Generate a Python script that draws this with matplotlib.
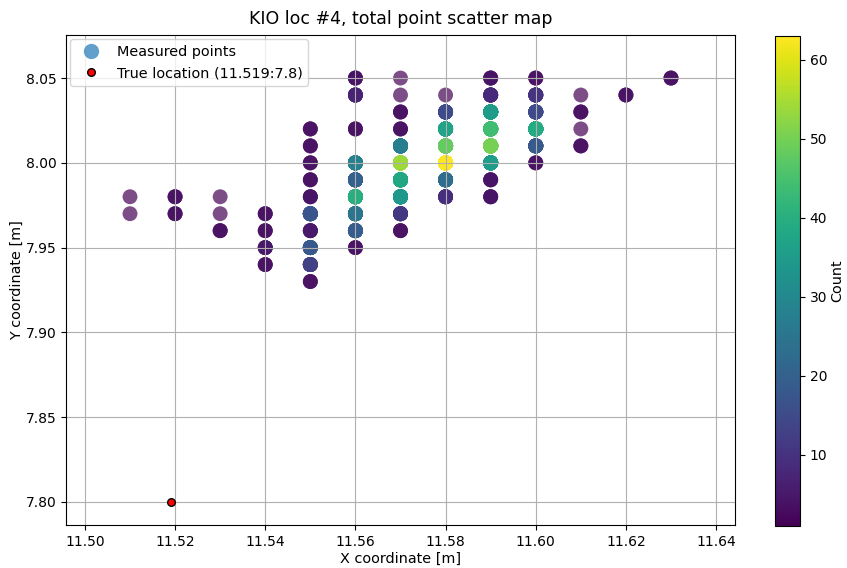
import numpy as np
import matplotlib
matplotlib.use("Agg")
import matplotlib.pyplot as plt
from matplotlib.lines import Line2D

# Measured points: x, y, count
x_vals = [11.51, 11.51,
          11.52, 11.52,
          11.53, 11.53, 11.53,
          11.54, 11.54, 11.54, 11.54,
          11.55, 11.55, 11.55, 11.55, 11.55, 11.55, 11.55, 11.55, 11.55, 11.55,
          11.56, 11.56, 11.56, 11.56, 11.56, 11.56, 11.56, 11.56, 11.56,
          11.57, 11.57, 11.57, 11.57, 11.57, 11.57, 11.57, 11.57, 11.57, 11.57,
          11.58, 11.58, 11.58, 11.58, 11.58, 11.58, 11.58,
          11.59, 11.59, 11.59, 11.59, 11.59, 11.59, 11.59, 11.59,
          11.60, 11.60, 11.60, 11.60, 11.60, 11.60,
          11.61, 11.61, 11.61, 11.61,
          11.62,
          11.63]
y_vals = [7.98, 7.97,
          7.98, 7.97,
          7.98, 7.97, 7.96,
          7.97, 7.96, 7.95, 7.94,
          8.02, 8.01, 8.00, 7.99, 7.98, 7.97, 7.96, 7.95, 7.94, 7.93,
          8.05, 8.04, 8.02, 8.00, 7.99, 7.98, 7.97, 7.96, 7.95,
          8.05, 8.04, 8.03, 8.02, 8.01, 8.00, 7.99, 7.98, 7.97, 7.96,
          8.04, 8.03, 8.02, 8.01, 8.00, 7.99, 7.98,
          8.05, 8.04, 8.03, 8.02, 8.01, 8.00, 7.99, 7.98,
          8.05, 8.04, 8.03, 8.02, 8.01, 8.00,
          8.04, 8.03, 8.02, 8.01,
          8.04,
          8.05]
counts = [1, 1,
          3, 3,
          1, 1, 3,
          3, 3, 5, 3,
          3, 3, 3, 3, 4, 17, 5, 18, 13, 3,
          4, 7, 3, 28, 20, 40, 25, 19, 3,
          1, 1, 3, 3, 27, 54, 38, 34, 11, 3,
          1, 15, 37, 48, 63, 23, 9,
          4, 8, 35, 44, 50, 35, 4, 4,
          3, 10, 15, 39, 18, 3,
          1, 3, 1, 3,
          3,
          3]

true_x = [11.519]
true_y = [7.8]

x_ticks = [11.50, 11.52, 11.54, 11.56, 11.58, 11.60, 11.62, 11.64]
y_ticks = [7.80, 7.85, 7.90, 7.95, 8.00, 8.05]
cbar_ticks = [10, 20, 30, 40, 50, 60]

plt.rcParams["font.size"] = 10.4
plt.rcParams["xtick.labelsize"] = 10
plt.rcParams["ytick.labelsize"] = 10

# Each measured point is drawn once per occurrence (count times)
rep_x = np.repeat(x_vals, counts)
rep_y = np.repeat(y_vals, counts)
rep_c = np.repeat(counts, counts)

fig = plt.figure(figsize=(8.47, 5.68), dpi=100)
ax = fig.add_axes([0.0779, 0.0757, 0.7899, 0.8627])
cax = fig.add_axes([0.915, 0.0739, 0.0295, 0.8627])

sc = ax.scatter(rep_x, rep_y, c=rep_c, cmap="viridis", vmin=1, vmax=63,
                s=115, alpha=0.7, linewidths=0)
ax.scatter(true_x, true_y, c="red", edgecolors="black", s=30, zorder=3,
           linewidths=1)

ax.set_xlim(11.4958, 11.6442)
ax.set_ylim(7.7864, 8.0754)
ax.set_xticks(x_ticks)
ax.set_yticks(y_ticks)
ax.set_xticklabels([f"{t:.2f}" for t in x_ticks])
ax.set_yticklabels([f"{t:.2f}" for t in y_ticks])
ax.grid(True, color="#b0b0b0", linewidth=0.8)
ax.set_xlabel("X coordinate [m]", labelpad=2)
ax.set_ylabel("Y coordinate [m]", labelpad=1)
ax.set_title("KIO loc #4, total point scatter map", fontsize=12.5, pad=8)

handles = [
    Line2D([], [], linestyle="none", marker="o", markersize=11,
           markerfacecolor="#1f77b4", markeredgewidth=0, alpha=0.7),
    Line2D([], [], linestyle="none", marker="o", markersize=5.5,
           markerfacecolor="red", markeredgecolor="black", markeredgewidth=1),
]
ax.legend(handles, ["Measured points",
                    f"True location ({true_x[0]}:{true_y[0]})"],
          loc="upper left", borderaxespad=0.3)

cb = fig.colorbar(sc, cax=cax)
cb.solids.set_alpha(1)
cb.set_ticks(cbar_ticks)
cb.set_label("Count", labelpad=2)

fig.savefig("out.png", dpi=100)
